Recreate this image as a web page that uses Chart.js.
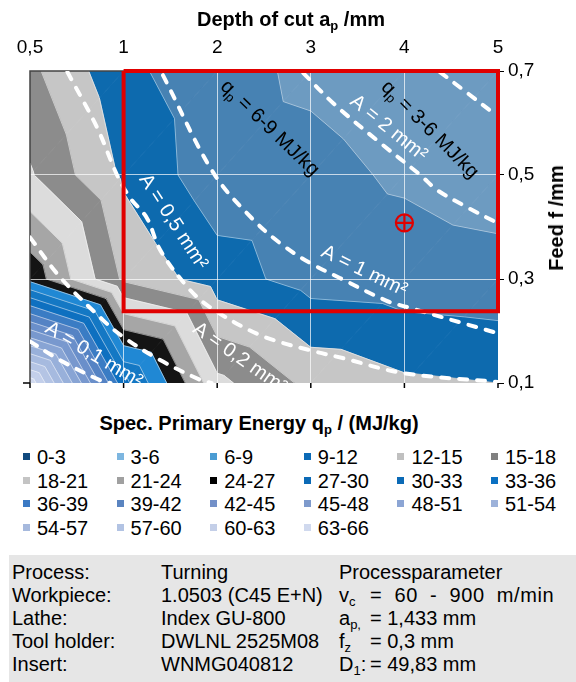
<!DOCTYPE html>
<html>
<head>
<meta charset="utf-8">
<script src="https://cdn.jsdelivr.net/npm/chart.js@4.4.1/dist/chart.umd.min.js"></script>
<style>
  body{margin:0;width:576px;height:682px;position:relative;background:#fff;overflow:hidden;
       font-family:"Liberation Sans",Arial,sans-serif;color:#000}
  #wrap{position:absolute;left:0;top:0;width:576px;height:400px}
  .t{position:absolute;white-space:nowrap;font-size:20px;line-height:20px}
  .b{font-weight:bold}
  .wide{letter-spacing:0.6px;word-spacing:6px}
  sub{font-size:65%;vertical-align:baseline;position:relative;top:.32em;line-height:0}
  .li{position:absolute;font-size:20px;line-height:20px;padding-left:14px;white-space:nowrap}
  .li i{position:absolute;left:0;top:6px;width:7px;height:7px}
  #info{position:absolute;left:9px;top:555px;width:567px;height:127px;background:#e6e6e6}
</style>
</head>
<body>
<div id="wrap"><canvas id="ch" width="576" height="400"></canvas></div>
<div class="t b" style="left:291px;top:9px;transform:translateX(-50%)">Depth of cut a<sub>p</sub> /mm</div>
<div class="t b" style="left:556px;top:218px;transform:translate(-50%,-50%) rotate(-90deg)">Feed f /mm</div>
<div class="t b" style="left:259px;top:413px;transform:translateX(-50%)">Spec. Primary Energy q<sub>p</sub> / (MJ/kg)</div>
<div id="legend"></div>
<div id="info"></div>

<script>
// depth of cut categories (top axis) and feed rows (right axis)
const depthCats = [0.5, 1, 2, 3, 4, 5];
const depthTickLabels = ['0,5', '1', '2', '3', '4', '5'];
const feedRows = [0.1, 0.3, 0.5, 0.7];
const feedTickLabels = ['0,1', '0,3', '0,5', '0,7'];

// spec. primary energy q_p (MJ/kg) per feed row, one value per depth category
const qpF01 = [65.0, 34.0, 18.8, 14.2, 12.5, 12.0];
const qpF03 = [26.0, 14.5, 10.3, 7.8, 7.4, 7.0];
const qpF05 = [18.3, 11.5, 7.2, 6.8, 5.6, 4.7];
const qpF07 = [15.7, 9.8, 6.9, 5.5, 4.5, 4.0];

const bandEdges = [0,3,6,9,12,15,18,21,24,27,30,33,36,39,42,45,48,51,54,57,60,63,66];

// chip cross section lines A = ap*f
const curveA01Ap = [0.5, 0.66, 0.87, 0.93];
const curveA01F  = [0.18, 0.144, 0.106, 0.1];
const curveA02Ap = [0.5, 0.66, 0.89, 1.0, 1.39, 1.82, 1.94];
const curveA02F  = [0.38, 0.304, 0.221, 0.188, 0.144, 0.106, 0.1];
const curveA05Ap = [0.70, 0.86, 0.965, 1.07, 1.25, 1.39, 1.68, 1.92, 2.46, 2.99, 3.34, 3.99, 5.0];
const curveA05F  = [0.698, 0.59, 0.5, 0.456, 0.417, 0.356, 0.285, 0.246, 0.192, 0.163, 0.148, 0.119, 0.102];
const curveA1Ap  = [1.42, 1.96, 2.38, 2.70, 2.99, 3.31, 3.81, 4.03, 4.99];
const curveA1F   = [0.692, 0.504, 0.415, 0.365, 0.331, 0.302, 0.258, 0.246, 0.196];
const curveA2Ap  = [2.92, 3.24, 3.74, 4.17, 4.35, 4.67, 4.99];
const curveA2F   = [0.696, 0.638, 0.562, 0.5, 0.471, 0.438, 0.408];
const curveA3Ap  = [4.38, 4.67, 4.98];
const curveA3F   = [0.698, 0.658, 0.615];

// highlighted window and operating point
const boxAp = [1, 5, 5, 1, 1];
const boxF  = [0.7, 0.7, 0.238, 0.238, 0.7];
const pointAp = [4];
const pointF  = [0.408];

// in-plot labels
const noteText = [['q','p',' = 6-9 MJ/kg'], ['q','p',' = 3-6 MJ/kg'], ['A = 2 mm²'], ['A = 0,5 mm²'], ['A = 1 mm²'], ['A = 0,2 mm²'], ['A = 0,1 mm²']];
const noteAp   = [2.56, 4.27, 3.83, 1.53, 3.57, 2.24, 0.84];
const noteF    = [0.59, 0.587, 0.59, 0.41, 0.315, 0.148, 0.154];
const noteRot  = [44, 45, 39, 57, 26, 35, 31];
const noteCol  = ['#000', '#000', '#fff', '#fff', '#fff', '#fff', '#fff'];

const bandFill = ['#0b4a82','#6d9bc1','#4782b3','#0d6aae','#c6c6c6','#8c8c8c','#dcdcdc','#a6a6a6','#141414',
  '#2088d4','#1478c4','#0e70c0','#3a7cc4','#5583c4','#6a8fca','#7898ce','#88a4d4','#98b0da','#a6badf','#b4c4e4','#c3cfea','#d2dbf0'];
const legendColors = ['#114a7e','#7db6e0','#4b9cd3','#0b6ab6','#c0c0c0','#808080','#c4c4c4','#a0a0a0','#000000',
  '#0b6ab6','#0b6ab6','#0a70c2','#3b7ac4','#5a84c0','#7390c8','#7e9acc','#8ca5d4','#9db2da','#a6b9dd','#b2c3e3','#c4cfe8','#d0d9ee'];

const FAM = '"Liberation Sans", Arial, sans-serif';
Chart.defaults.font.family = FAM;

// position of a depth value on the category axis
function apIndex(a){
  let i = 0;
  while (i < depthCats.length - 2 && a > depthCats[i+1]) i++;
  return i + (a - depthCats[i]) / (depthCats[i+1] - depthCats[i]);
}
const pts = (aps, fs) => aps.map((a, i) => ({x: apIndex(a), y: fs[i]}));

function clipPoly(poly, level, sign){
  const out = [];
  for (let i = 0; i < poly.length; i++){
    const p = poly[i], q = poly[(i+1) % poly.length];
    const dp = sign*(p.v - level), dq = sign*(q.v - level);
    if (dp >= 0) out.push(p);
    if ((dp >= 0) !== (dq >= 0)){
      const t = dp / (dp - dq);
      out.push({x: p.x + t*(q.x - p.x), y: p.y + t*(q.y - p.y), v: level});
    }
  }
  return out;
}

const contour = {
  id: 'contour',
  beforeDraw(chart){
    const {ctx, chartArea: ca, scales: {x, y}} = chart;
    const rows = [qpF01, qpF03, qpF05, qpF07];
    const node = (i, j) => ({x: x.getPixelForValue(apIndex(depthCats[i])), y: y.getPixelForValue(feedRows[j]), v: rows[j][i]});
    const tris = [];
    for (let j = 0; j < rows.length - 1; j++)
      for (let i = 0; i < depthCats.length - 1; i++){
        const bl = node(i, j), br = node(i+1, j), tl = node(i, j+1), tr = node(i+1, j+1);
        tris.push([bl, tr, tl], [bl, br, tr]);
      }
    ctx.save();
    ctx.beginPath(); ctx.rect(ca.left, ca.top, ca.right - ca.left, ca.bottom - ca.top); ctx.clip();
    ctx.lineJoin = 'round';
    tris.forEach(t => {
      for (let k = 0; k < bandEdges.length - 1; k++){
        const poly = clipPoly(clipPoly(t, bandEdges[k], 1), bandEdges[k+1], -1);
        if (poly.length < 3) continue;
        ctx.beginPath();
        poly.forEach((p, n) => n ? ctx.lineTo(p.x, p.y) : ctx.moveTo(p.x, p.y));
        ctx.closePath();
        ctx.fillStyle = bandFill[k]; ctx.strokeStyle = bandFill[k]; ctx.lineWidth = 0.8;
        ctx.fill(); ctx.stroke();
      }
    });
    // band borders
    ctx.strokeStyle = 'rgba(255,255,255,0.5)'; ctx.lineWidth = 1;
    bandEdges.slice(1, -1).forEach(lv => {
      tris.forEach(t => {
        const s = [];
        for (let e = 0; e < 3; e++){
          const p = t[e], q = t[(e+1) % 3];
          if ((p.v - lv)*(q.v - lv) < 0){
            const u = (lv - p.v) / (q.v - p.v);
            s.push([p.x + u*(q.x - p.x), p.y + u*(q.y - p.y)]);
          }
        }
        if (s.length === 2){ ctx.beginPath(); ctx.moveTo(s[0][0], s[0][1]); ctx.lineTo(s[1][0], s[1][1]); ctx.stroke(); }
      });
    });
    ctx.restore();
  },
  beforeDatasetsDraw(chart){
    const {ctx, chartArea: ca, scales: {x}} = chart;
    ctx.save();
    ctx.strokeStyle = '#444'; ctx.lineWidth = 1.5;
    ctx.beginPath();
    ctx.moveTo(ca.left, ca.bottom); ctx.lineTo(ca.left, ca.top); ctx.lineTo(ca.right, ca.top);
    ctx.stroke();
    ctx.strokeStyle = '#000'; ctx.lineWidth = 1.5;
    depthCats.forEach((c, i) => {
      const px = x.getPixelForValue(i);
      ctx.beginPath(); ctx.moveTo(px, ca.bottom); ctx.lineTo(px, ca.bottom + 5); ctx.stroke();
    });
    ctx.beginPath(); ctx.moveTo(ca.left - 7, ca.bottom); ctx.lineTo(ca.left, ca.bottom); ctx.stroke();
    ctx.restore();
  },
  afterDatasetsDraw(chart){
    const {ctx, chartArea: ca, scales: {x, y}} = chart;
    ctx.save();
    ctx.beginPath(); ctx.rect(ca.left, ca.top, ca.right - ca.left, ca.bottom - ca.top + 6); ctx.clip();
    noteText.forEach((parts, n) => {
      const big = '20px ' + FAM, small = '13px ' + FAM;
      const segs = parts.length === 3 ? [[parts[0], 0], [parts[1], 1], [parts[2], 0]] : [[parts[0], 0]];
      const ws = segs.map(s => { ctx.font = s[1] ? small : big; return ctx.measureText(s[0]).width; });
      const total = ws.reduce((a, b) => a + b, 0);
      ctx.save();
      ctx.translate(x.getPixelForValue(apIndex(noteAp[n])), y.getPixelForValue(noteF[n]));
      ctx.rotate(noteRot[n] * Math.PI / 180);
      ctx.fillStyle = noteCol[n]; ctx.textBaseline = 'middle'; ctx.textAlign = 'left';
      let cx = -total / 2;
      segs.forEach((s, k) => { ctx.font = s[1] ? small : big; ctx.fillText(s[0], cx, s[1] ? 6 : 0); cx += ws[k]; });
      ctx.restore();
    });
    ctx.restore();
  }
};

const dashed = (aps, fs) => ({
  data: pts(aps, fs), showLine: true, borderColor: '#fff', borderWidth: 4,
  borderDash: [8, 10], borderCapStyle: 'round', pointRadius: 0, tension: 0.35, order: 5
});

new Chart(document.getElementById('ch'), {
  type: 'scatter',
  data: {
    datasets: [
      {data: pts(boxAp, boxF), showLine: true, borderColor: '#e00000', borderWidth: 4, borderJoinStyle: 'miter',
       pointRadius: 0, tension: 0, clip: false, order: 1},
      {data: pts(pointAp, pointF), pointStyle: 'circle', pointRadius: 8.5, pointBorderWidth: 2.2,
       pointBorderColor: '#e00000', pointBackgroundColor: 'rgba(0,0,0,0)', order: 2},
      {data: pts(pointAp, pointF), pointStyle: 'cross', pointRadius: 8.5, pointBorderWidth: 2.2,
       pointBorderColor: '#e00000', order: 2},
      dashed(curveA01Ap, curveA01F), dashed(curveA02Ap, curveA02F), dashed(curveA05Ap, curveA05F),
      dashed(curveA1Ap, curveA1F), dashed(curveA2Ap, curveA2F), dashed(curveA3Ap, curveA3F)
    ]
  },
  options: {
    responsive: false, animation: false, devicePixelRatio: 1,
    layout: {padding: {left: 30, right: 0, top: 0, bottom: 17}},
    plugins: {legend: {display: false}, tooltip: {enabled: false}},
    scales: {
      x: {
        type: 'linear', position: 'top', min: 0, max: 5,
        afterBuildTicks: s => { s.ticks = depthCats.map((c, i) => ({value: i})); },
        afterFit: s => { s.height = 71; },
        ticks: {callback: (v, i) => depthTickLabels[i], color: '#000', font: {size: 19}, padding: 12, maxRotation: 0, autoSkip: false},
        grid: {color: c => (c.tick && (c.tick.value === 0 || c.tick.value === 5)) ? 'rgba(0,0,0,0)' : 'rgba(255,255,255,0.7)',
               lineWidth: 1, drawTicks: false},
        border: {display: false}
      },
      y: {
        type: 'linear', position: 'right', min: 0.1, max: 0.7,
        afterBuildTicks: s => { s.ticks = feedRows.map(v => ({value: v})); },
        afterFit: s => { s.width = 78; },
        ticks: {callback: (v, i) => feedTickLabels[i], color: '#000', font: {size: 19}, padding: 4},
        grid: {color: c => (c.tick && (Math.abs(c.tick.value - 0.1) < 1e-6 || Math.abs(c.tick.value - 0.7) < 1e-6)) ? 'rgba(0,0,0,0)' : 'rgba(255,255,255,0.7)',
               tickColor: '#000', tickLength: 6, lineWidth: 1},
        border: {display: false}
      }
    }
  },
  plugins: [contour]
});

// legend
const leg = document.getElementById('legend');
bandFill.forEach((c, k) => {
  const r = Math.floor(k / 6), col = k % 6;
  const d = document.createElement('div');
  d.className = 'li';
  d.style.left = (23 + col * 93.6) + 'px';
  d.style.top = (447 + r * 23.7) + 'px';
  d.innerHTML = '<i style="background:' + legendColors[k] + '"></i>' + bandEdges[k] + '-' + bandEdges[k+1];
  leg.appendChild(d);
});

// process data box
const infoRows = [
  ['Process:', 'Turning', 'Processparameter', ''],
  ['Workpiece:', '1.0503 (C45 E+N)', 'v<sub>c</sub>', '<span class="wide">= 60 - 900 m/min</span>'],
  ['Lathe:', 'Index GU-800', 'a<sub>p,</sub>', '= 1,433 mm'],
  ['Tool holder:', 'DWLNL 2525M08', 'f<sub>z</sub>', '= 0,3 mm'],
  ['Insert:', 'WNMG040812', 'D<sub>1</sub>:', '= 49,83 mm']
];
const infoCols = [12, 161, 339, 370];
infoRows.forEach((row, r) => {
  row.forEach((txt, c) => {
    if (!txt) return;
    const d = document.createElement('div');
    d.className = 't';
    d.style.left = infoCols[c] + 'px';
    d.style.top = (562 + r * 23) + 'px';
    d.innerHTML = txt;
    document.body.appendChild(d);
  });
});
</script>
</body>
</html>
